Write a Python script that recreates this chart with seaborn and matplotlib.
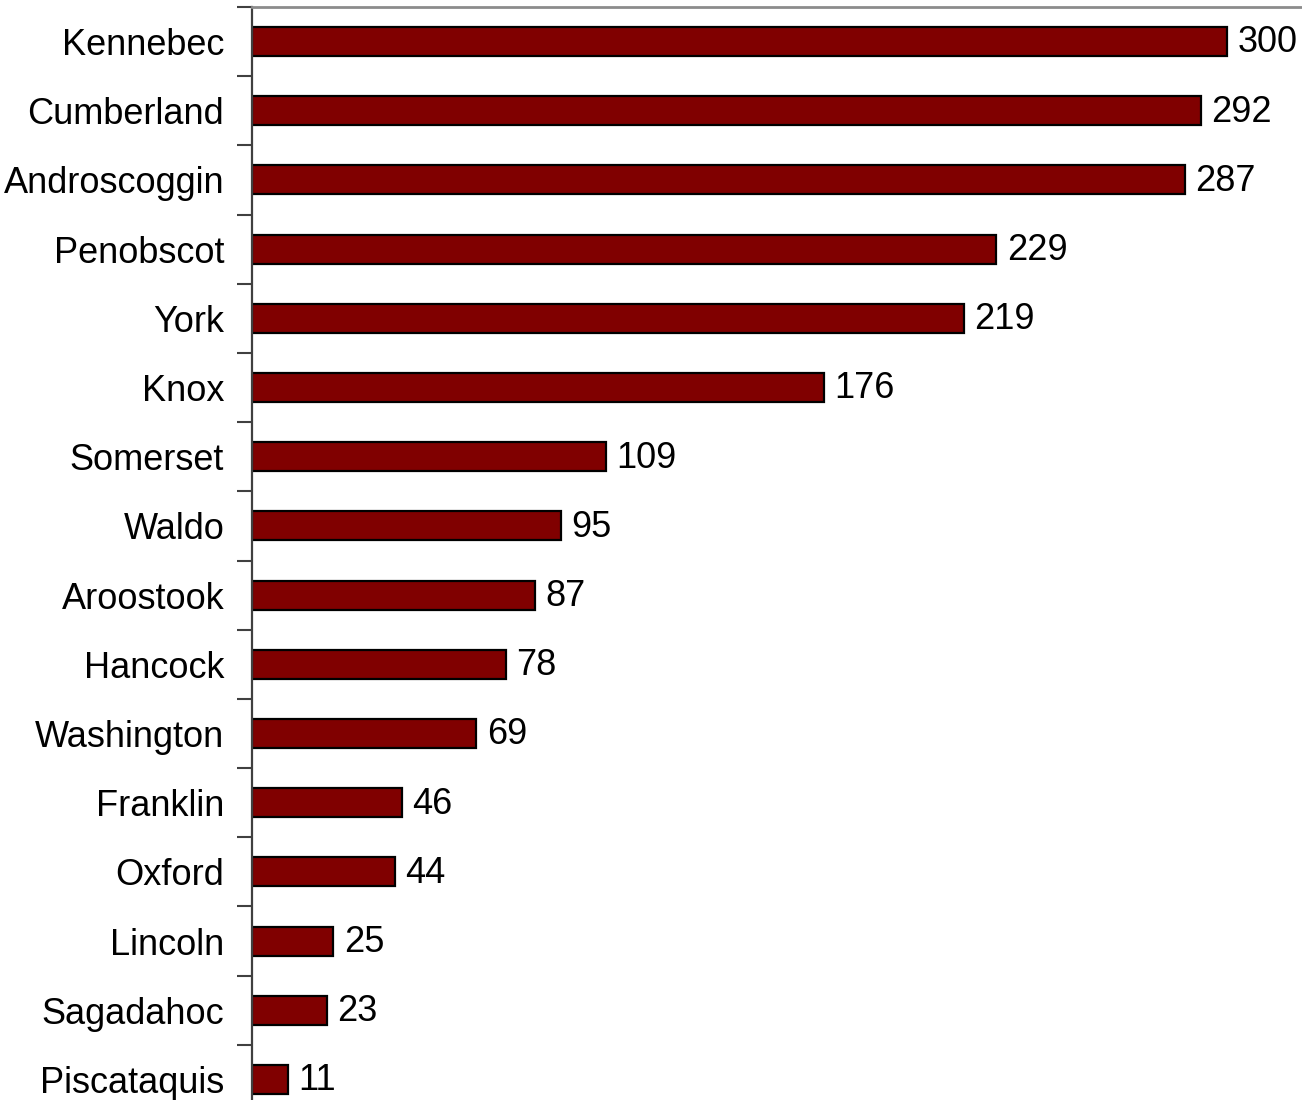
import matplotlib
matplotlib.use("Agg")
import matplotlib.pyplot as plt
from matplotlib.ticker import FixedLocator
import seaborn as sns
import pandas as pd
import numpy as np

counties = ["Kennebec", "Cumberland", "Androscoggin", "Penobscot", "York", "Knox",
            "Somerset", "Waldo", "Aroostook", "Hancock", "Washington", "Franklin",
            "Oxford", "Lincoln", "Sagadahoc", "Piscataquis"]
counts = [300, 292, 287, 229, 219, 176, 109, 95, 87, 78, 69, 46, 44, 25, 23, 11]

df = pd.DataFrame({"county": counties, "count": counts})

sns.set_theme(style="white")
plt.rcParams["font.family"] = ["Liberation Sans", "DejaVu Sans"]

fig = plt.figure(figsize=(13.02, 11.0), dpi=100)
ax_left = 252 / 1302
ax_top = 1 - 7 / 1100
ax_h = 1107 / 1100
ax = fig.add_axes([ax_left, ax_top - ax_h, 1 - ax_left, ax_h])

sns.barplot(data=df, x="count", y="county", orient="h", color="#800000",
            saturation=1, edgecolor="black", linewidth=1.6, width=0.42, ax=ax)

n = len(counties)
ax.set_ylim(n - 0.5, -0.5)
ax.set_xlim(0, (1302 - 252) / 3.25)

for i, v in enumerate(counts):
    ax.text(v + 3.2, i + 0.02, str(v), va="center", ha="left", fontsize=26, color="black")

ax.set_xlabel("")
ax.set_ylabel("")
ax.set_xticks([])
ax.yaxis.set_minor_locator(FixedLocator(np.arange(-0.5, n, 1)))
ax.tick_params(axis="y", which="major", length=0, pad=20, labelsize=26, labelcolor="black")
ax.tick_params(axis="y", which="minor", length=11, width=1.5, color="#404040", left=True)

for side in ["right", "bottom"]:
    ax.spines[side].set_visible(False)
ax.spines["left"].set_color("#404040")
ax.spines["left"].set_linewidth(1.6)
ax.spines["top"].set_color("#8c8c8c")
ax.spines["top"].set_linewidth(2)

fig.savefig("out.png", dpi=100)
